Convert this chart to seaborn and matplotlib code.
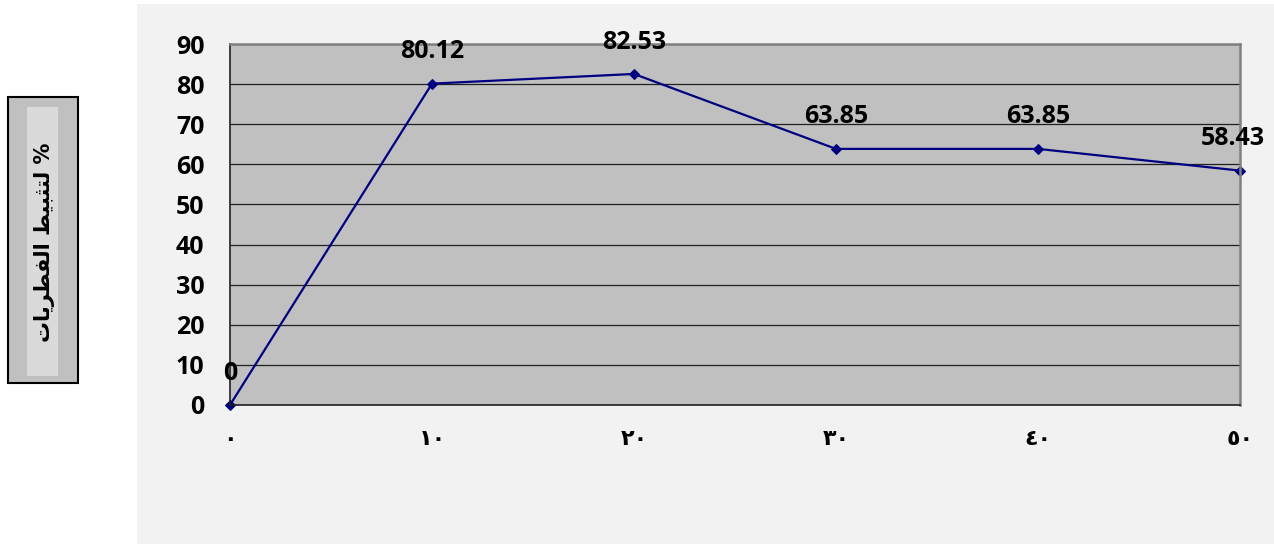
import matplotlib
matplotlib.use("Agg")
import matplotlib.pyplot as plt
import seaborn as sns
import pandas as pd
from matplotlib.patches import Rectangle

# data
x_vals = [0, 10, 20, 30, 40, 50]
x_labels = ["٠", "١٠", "٢٠", "٣٠", "٤٠", "٥٠"]
y_vals = [0, 80.12, 82.53, 63.85, 63.85, 58.43]
y_ticks = [0, 10, 20, 30, 40, 50, 60, 70, 80, 90]
y_title = "% لتثبيط الفطريات"


# matplotlib has no arabic shaping, so map letters to presentation forms
# forms: (isolated, final, initial, medial)
FORMS = {
    "ا": ("\uFE8D", "\uFE8E", None, None),
    "ب": ("\uFE8F", "\uFE90", "\uFE91", "\uFE92"),
    "ت": ("\uFE95", "\uFE96", "\uFE97", "\uFE98"),
    "ث": ("\uFE99", "\uFE9A", "\uFE9B", "\uFE9C"),
    "ر": ("\uFEAD", "\uFEAE", None, None),
    "ط": ("\uFEC1", "\uFEC2", "\uFEC3", "\uFEC4"),
    "ف": ("\uFED1", "\uFED2", "\uFED3", "\uFED4"),
    "ل": ("\uFEDD", "\uFEDE", "\uFEDF", "\uFEE0"),
    "ي": ("\uFEF1", "\uFEF2", "\uFEF3", "\uFEF4"),
}


def shape_arabic(text):
    out = []
    for i, ch in enumerate(text):
        if ch not in FORMS:
            out.append(ch)
            continue
        prev = text[i - 1] if i > 0 else ""
        nxt = text[i + 1] if i + 1 < len(text) else ""
        join_prev = prev in FORMS and FORMS[prev][2] is not None
        join_next = nxt in FORMS and FORMS[ch][2] is not None
        iso, fin, ini, med = FORMS[ch]
        if join_prev and join_next:
            out.append(med)
        elif join_prev:
            out.append(fin)
        elif join_next:
            out.append(ini)
        else:
            out.append(iso)
    # right-to-left -> visual order
    return "".join(reversed(out))


df = pd.DataFrame({"x": x_vals, "y": y_vals})

sns.set_theme(style="white")
plt.rcParams["font.family"] = ["Open Sans", "DejaVu Sans"]
plt.rcParams["text.color"] = "black"
plt.rcParams["xtick.color"] = "black"
plt.rcParams["ytick.color"] = "black"

fig = plt.figure(figsize=(12.74, 5.44), dpi=100)
fig.patch.set_facecolor("white")

# chart area background
fig.patches.append(Rectangle((137 / 1274, 0), 1 - 137 / 1274, 1 - 4 / 544,
                             transform=fig.transFigure, facecolor="#f2f2f2",
                             edgecolor="none", zorder=0))

ax = fig.add_axes([230 / 1274, 1 - 405 / 544, 1010 / 1274, 361 / 544])
ax.set_zorder(5)
ax.set_facecolor("#c0c0c0")

sns.lineplot(data=df, x="x", y="y", ax=ax, color="#000080", linewidth=1.6,
             marker="D", markersize=5.5, markeredgecolor="#000080", clip_on=False)

ax.set_xlim(0, 50)
ax.set_ylim(0, 90)
ax.set_xticks(x_vals)
ax.set_xticklabels(x_labels, family="DejaVu Sans", fontweight="bold", fontsize=16)
ax.set_yticks(y_ticks)
ax.set_yticklabels([str(v) for v in y_ticks], fontweight="bold", fontsize=18)
ax.tick_params(axis="x", length=6.5, width=1, color="#202020", pad=11, direction="out")
ax.tick_params(axis="y", length=6.5, width=1, color="#202020", pad=12, direction="out")
ax.set_xlabel("")
ax.set_ylabel("")

ax.grid(axis="y", color="#202020", linewidth=0.9)
ax.grid(axis="x", visible=False)
ax.set_axisbelow(True)

for side in ["left", "bottom"]:
    ax.spines[side].set_color("#202020")
    ax.spines[side].set_linewidth(1.2)
for side in ["top", "right"]:
    ax.spines[side].set_color("#808080")
    ax.spines[side].set_linewidth(1.8)

for xv, yv in zip(x_vals, y_vals):
    lbl = "0" if yv == 0 else f"{yv:.2f}"
    dx = -5 if xv == x_vals[-1] else 0
    ax.annotate(lbl, (xv, yv), xytext=(dx, 23), textcoords="offset points",
                ha="center", va="center", fontsize=18, fontweight="bold",
                color="black", annotation_clip=False)

# y axis title box
fig.patches.append(Rectangle((8 / 1274, 1 - 383 / 544), 70 / 1274, 286 / 544,
                             transform=fig.transFigure, facecolor="#c0c0c0",
                             edgecolor="black", linewidth=1.5, zorder=1))
fig.patches.append(Rectangle((27 / 1274, 1 - 376 / 544), 31 / 1274, 269 / 544,
                             transform=fig.transFigure, facecolor="#dadada",
                             edgecolor="none", zorder=2))
fig.text(45 / 1274, 1 - 242 / 544, shape_arabic(y_title), rotation=90,
         ha="center", va="center", fontsize=15, fontweight="bold",
         family="DejaVu Sans", zorder=3)

fig.savefig("out.png", dpi=100, facecolor=fig.get_facecolor())
